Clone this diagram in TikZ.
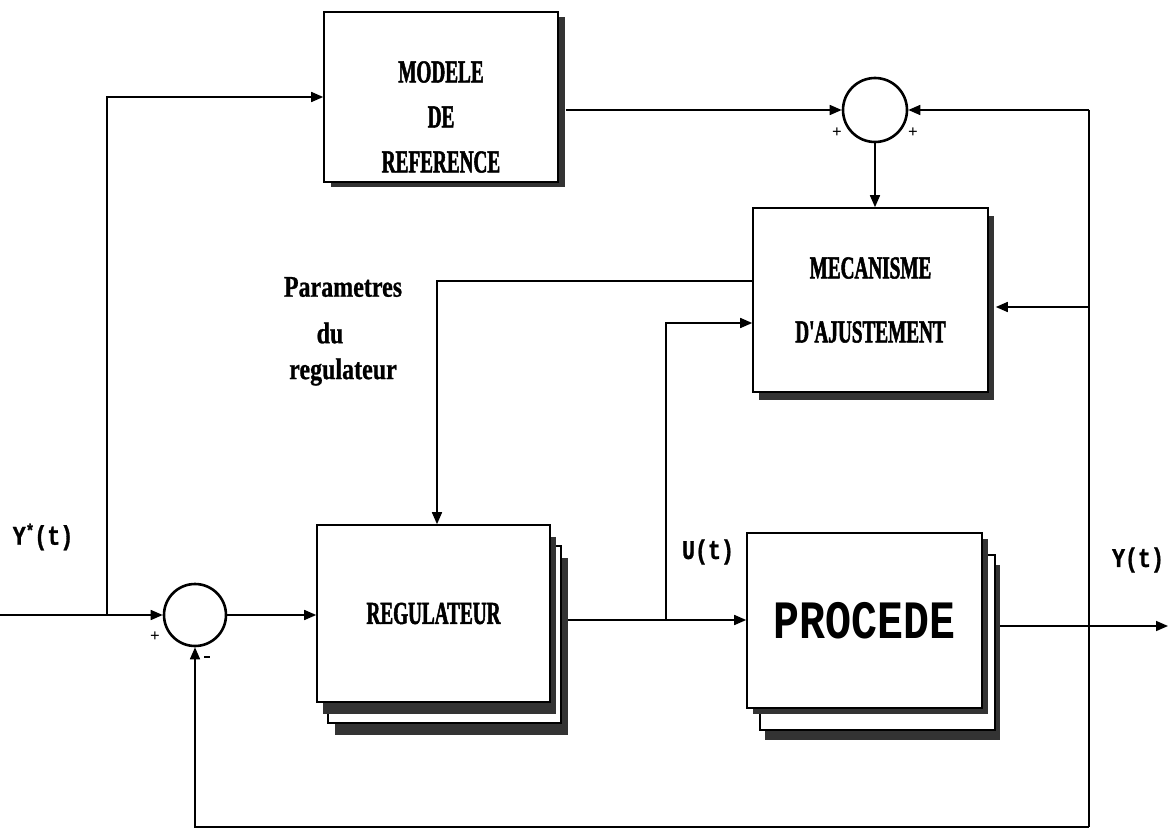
\documentclass[tikz,border=0pt]{standalone}
\usepackage{fontspec}
\setmainfont{Liberation Serif}
\newfontfamily\boxfnt[FakeStretch=0.6,FakeBold=1.6]{Liberation Serif}
\newfontfamily\parfnt[FakeStretch=0.8,FakeBold=0.8]{Liberation Serif}
\newfontfamily\labfnt[FakeStretch=0.8,FakeBold=1]{Liberation Mono}
\newfontfamily\procfnt[FakeStretch=0.8]{Liberation Mono}
\usetikzlibrary{arrows.meta,calc}
\begin{document}
\begin{tikzpicture}[x=1pt,y=-1pt,
  wire/.style={line width=1.6pt},
  arr/.style={wire,-{Triangle[length=12pt,width=10pt]}},
  blk/.style={draw,line width=1.6pt,fill=white,inner sep=0pt},
  layer/.style={draw,line width=1.6pt,fill=white},
  shd/.style={fill=black!80},
  sum/.style={draw,circle,line width=2.6pt,minimum size=62pt,inner sep=0pt},
  btext/.style={font=\boxfnt\bfseries\fontsize{32}{45}\selectfont,align=center},
  lab/.style={font=\labfnt\bfseries\fontsize{27}{30}\selectfont,inner sep=0pt},
  par/.style={font=\parfnt\bfseries\fontsize{30}{32}\selectfont,inner sep=0pt},
  sgn/.style={font=\bfseries\fontsize{17}{17}\selectfont,inner sep=0pt}
]
\useasboundingbox (0,0) rectangle (1175,832);

% MODELE DE REFERENCE
\fill[shd] (331,17) rectangle (565,187);
\node[blk,minimum width=234pt,minimum height=170pt] (modele) at (441,97) {};
\node[btext] (modeletxt) at (441,117) {MODELE\\DE\\REFERENCE};

% MECANISME D'AJUSTEMENT
\fill[shd] (759,216) rectangle (994,400);
\node[blk,btext,font=\boxfnt\bfseries\fontsize{32}{64}\selectfont,minimum width=235pt,minimum height=184pt] (meca) at (870.5,300) {MECANISME\\D'AJUSTEMENT};

% REGULATEUR (stacked)
\fill[shd] (335,558) rectangle (568,735);
\draw[layer] (328,546) rectangle (561,723);
\fill[shd] (323,537) rectangle (556,714);
\node[blk,btext,minimum width=233pt,minimum height=177pt] (reg) at (433.5,613.5) {REGULATEUR};

% PROCEDE (stacked)
\fill[shd] (765,565) rectangle (1000,740);
\draw[layer] (760,555) rectangle (995,730);
\fill[shd] (753,539) rectangle (988,714);
\node[blk,minimum width=235pt,minimum height=175pt,font=\procfnt\bfseries\fontsize{54}{60}\selectfont] (proc) at (864.5,620.5) {PROCEDE};

% summing junctions
\node[sum] (s1) at (195,615) {};
\node[sum,minimum size=64pt] (s2) at (875,110) {};

% connectors
\coordinate (in) at (0,615);
\draw[arr] (in) -- (s1.west);
\coordinate (br1) at (107,615);
\draw[arr] (br1) |- (modele.west);
\draw[arr] (s1.east) -- (reg.west |- s1.east);
\coordinate (regout) at (568,620);
\draw[arr] (regout) -- (proc.west |- regout);
\coordinate (ubr) at (666,620);
\draw[arr] (ubr) |- ($(meca.west)+(0,23)$);
\draw[arr] ($(modele.east)+(7,13)$) -- (s2.west);
\draw[arr] (s2.south) -- (s2.south |- meca.north);
\draw[arr] ($(meca.west)+(0,-19)$) -| ($(reg.north)+(3.5,0)$);
\coordinate (tr) at (1089,110);
\coordinate (bt) at (1089,827);
\draw[wire] (tr) -- (bt);
\draw[arr] (tr) -- (s2.east);
\coordinate (mecin) at ($(meca.east)+(7,7)$);
\draw[arr] (tr |- mecin) -- (mecin);
\draw[arr] (bt) -| (s1.south);
\coordinate (pout) at (1000,626);
\coordinate (yout) at (1168,626);
\draw[arr] (pout) -- (yout);

% labels
\node[lab] (ystar) at (43,537) {Y\raisebox{8pt}{\fontsize{18}{18}\selectfont *}(t)};
\node[lab] (ut) at (708,552) {U(t)};
\node[lab] (yt) at (1138,560) {Y(t)};
\node[par] (p1) at (343,287) {Parametres};
\node[par] (p2) at (330,333) {du};
\node[par] (p3) at (343,372) {regulateur};
\node[sgn] (s1p) at (155,637) {+};
\node[sgn] (s1m) at (207,657) {\rule{6pt}{2pt}};
\node[sgn] (s2l) at (837,133) {+};
\node[sgn] (s2r) at (913,133) {+};
\end{tikzpicture}
\end{document}
